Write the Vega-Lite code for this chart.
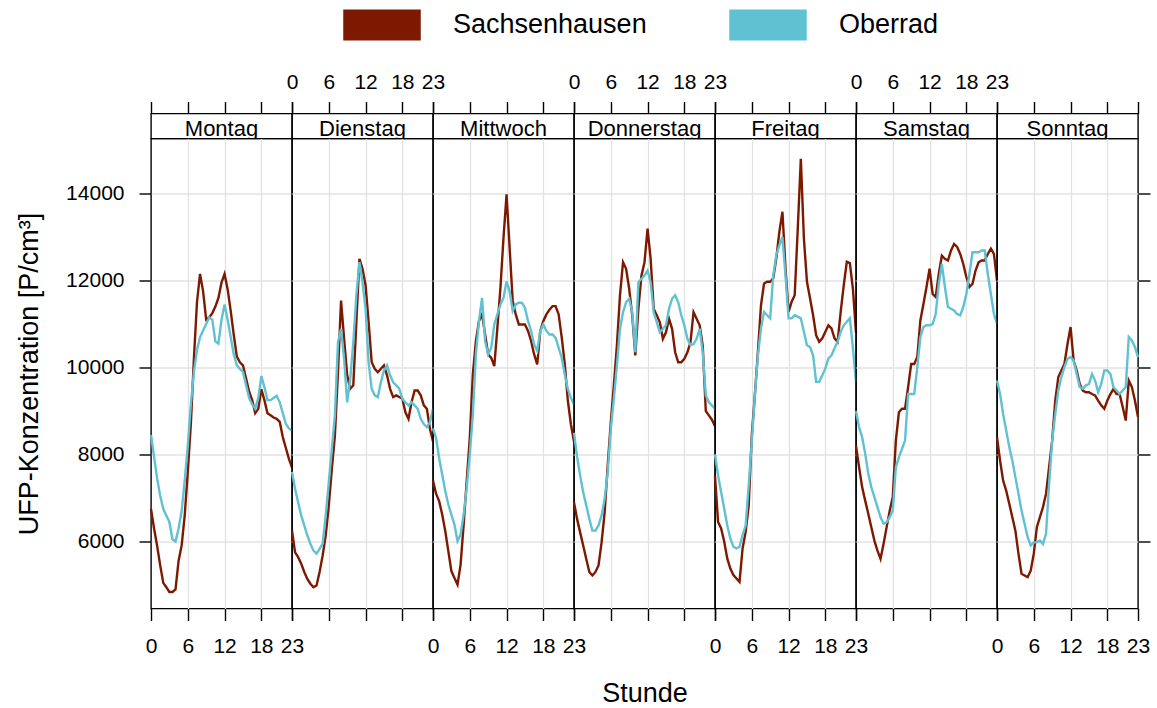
{
  "$schema": "https://vega.github.io/schema/vega-lite/v6.json",
  "background": "white",
  "padding": {"left": 14, "top": -6.5, "right": 5, "bottom": 5},
  "datasets": {
    "ufp": [
      {"tag":"Montag","stunde":0,"Sachsenhausen":6750,"Oberrad":8450},
      {"tag":"Montag","stunde":0.5,"Sachsenhausen":6300,"Oberrad":7950},
      {"tag":"Montag","stunde":1,"Sachsenhausen":5900,"Oberrad":7450},
      {"tag":"Montag","stunde":1.5,"Sachsenhausen":5450,"Oberrad":7050},
      {"tag":"Montag","stunde":2,"Sachsenhausen":5050,"Oberrad":6750},
      {"tag":"Montag","stunde":2.5,"Sachsenhausen":4950,"Oberrad":6600},
      {"tag":"Montag","stunde":3,"Sachsenhausen":4840,"Oberrad":6450},
      {"tag":"Montag","stunde":3.5,"Sachsenhausen":4840,"Oberrad":6050},
      {"tag":"Montag","stunde":4,"Sachsenhausen":4900,"Oberrad":6000},
      {"tag":"Montag","stunde":4.5,"Sachsenhausen":5560,"Oberrad":6300},
      {"tag":"Montag","stunde":5,"Sachsenhausen":5910,"Oberrad":6700},
      {"tag":"Montag","stunde":5.5,"Sachsenhausen":6600,"Oberrad":7400},
      {"tag":"Montag","stunde":6,"Sachsenhausen":7600,"Oberrad":8200},
      {"tag":"Montag","stunde":6.5,"Sachsenhausen":8700,"Oberrad":9150},
      {"tag":"Montag","stunde":7,"Sachsenhausen":10200,"Oberrad":9900},
      {"tag":"Montag","stunde":7.5,"Sachsenhausen":11500,"Oberrad":10400},
      {"tag":"Montag","stunde":8,"Sachsenhausen":12150,"Oberrad":10700},
      {"tag":"Montag","stunde":8.5,"Sachsenhausen":11750,"Oberrad":10850},
      {"tag":"Montag","stunde":9,"Sachsenhausen":11100,"Oberrad":11000},
      {"tag":"Montag","stunde":9.5,"Sachsenhausen":11150,"Oberrad":11150},
      {"tag":"Montag","stunde":10,"Sachsenhausen":11250,"Oberrad":11100},
      {"tag":"Montag","stunde":10.5,"Sachsenhausen":11400,"Oberrad":10600},
      {"tag":"Montag","stunde":11,"Sachsenhausen":11600,"Oberrad":10550},
      {"tag":"Montag","stunde":11.5,"Sachsenhausen":11950,"Oberrad":11100},
      {"tag":"Montag","stunde":12,"Sachsenhausen":12150,"Oberrad":11450},
      {"tag":"Montag","stunde":12.5,"Sachsenhausen":11800,"Oberrad":11100},
      {"tag":"Montag","stunde":13,"Sachsenhausen":11300,"Oberrad":10700},
      {"tag":"Montag","stunde":13.5,"Sachsenhausen":10750,"Oberrad":10300},
      {"tag":"Montag","stunde":14,"Sachsenhausen":10250,"Oberrad":10050},
      {"tag":"Montag","stunde":14.5,"Sachsenhausen":10120,"Oberrad":9970},
      {"tag":"Montag","stunde":15,"Sachsenhausen":10050,"Oberrad":9900},
      {"tag":"Montag","stunde":15.5,"Sachsenhausen":9750,"Oberrad":9600},
      {"tag":"Montag","stunde":16,"Sachsenhausen":9450,"Oberrad":9300},
      {"tag":"Montag","stunde":16.5,"Sachsenhausen":9250,"Oberrad":9150},
      {"tag":"Montag","stunde":17,"Sachsenhausen":8950,"Oberrad":9050},
      {"tag":"Montag","stunde":17.5,"Sachsenhausen":9050,"Oberrad":9300},
      {"tag":"Montag","stunde":18,"Sachsenhausen":9500,"Oberrad":9800},
      {"tag":"Montag","stunde":18.5,"Sachsenhausen":9250,"Oberrad":9550},
      {"tag":"Montag","stunde":19,"Sachsenhausen":8950,"Oberrad":9250},
      {"tag":"Montag","stunde":19.5,"Sachsenhausen":8900,"Oberrad":9250},
      {"tag":"Montag","stunde":20,"Sachsenhausen":8850,"Oberrad":9300},
      {"tag":"Montag","stunde":20.5,"Sachsenhausen":8820,"Oberrad":9350},
      {"tag":"Montag","stunde":21,"Sachsenhausen":8750,"Oberrad":9200},
      {"tag":"Montag","stunde":21.5,"Sachsenhausen":8400,"Oberrad":8950},
      {"tag":"Montag","stunde":22,"Sachsenhausen":8150,"Oberrad":8700},
      {"tag":"Montag","stunde":22.5,"Sachsenhausen":7900,"Oberrad":8600},
      {"tag":"Montag","stunde":23,"Sachsenhausen":7700,"Oberrad":8550},

      {"tag":"Dienstag","stunde":0,"Sachsenhausen":6250,"Oberrad":7600},
      {"tag":"Dienstag","stunde":0.5,"Sachsenhausen":5750,"Oberrad":7210},
      {"tag":"Dienstag","stunde":1,"Sachsenhausen":5640,"Oberrad":6900},
      {"tag":"Dienstag","stunde":1.5,"Sachsenhausen":5490,"Oberrad":6600},
      {"tag":"Dienstag","stunde":2,"Sachsenhausen":5300,"Oberrad":6370},
      {"tag":"Dienstag","stunde":2.5,"Sachsenhausen":5140,"Oberrad":6140},
      {"tag":"Dienstag","stunde":3,"Sachsenhausen":5030,"Oberrad":5950},
      {"tag":"Dienstag","stunde":3.5,"Sachsenhausen":4950,"Oberrad":5790},
      {"tag":"Dienstag","stunde":4,"Sachsenhausen":4990,"Oberrad":5720},
      {"tag":"Dienstag","stunde":4.5,"Sachsenhausen":5300,"Oberrad":5830},
      {"tag":"Dienstag","stunde":5,"Sachsenhausen":5680,"Oberrad":5950},
      {"tag":"Dienstag","stunde":5.5,"Sachsenhausen":6140,"Oberrad":6600},
      {"tag":"Dienstag","stunde":6,"Sachsenhausen":6830,"Oberrad":7360},
      {"tag":"Dienstag","stunde":6.5,"Sachsenhausen":7670,"Oberrad":8130},
      {"tag":"Dienstag","stunde":7,"Sachsenhausen":8440,"Oberrad":8900},
      {"tag":"Dienstag","stunde":7.5,"Sachsenhausen":9890,"Oberrad":10580},
      {"tag":"Dienstag","stunde":8,"Sachsenhausen":11540,"Oberrad":10890},
      {"tag":"Dienstag","stunde":8.5,"Sachsenhausen":10660,"Oberrad":10200},
      {"tag":"Dienstag","stunde":9,"Sachsenhausen":9820,"Oberrad":9200},
      {"tag":"Dienstag","stunde":9.5,"Sachsenhausen":9510,"Oberrad":9740},
      {"tag":"Dienstag","stunde":10,"Sachsenhausen":9590,"Oberrad":10580},
      {"tag":"Dienstag","stunde":10.5,"Sachsenhausen":11040,"Oberrad":11660},
      {"tag":"Dienstag","stunde":11,"Sachsenhausen":12500,"Oberrad":12420},
      {"tag":"Dienstag","stunde":11.5,"Sachsenhausen":12270,"Oberrad":11960},
      {"tag":"Dienstag","stunde":12,"Sachsenhausen":11890,"Oberrad":11350},
      {"tag":"Dienstag","stunde":12.5,"Sachsenhausen":11040,"Oberrad":10120},
      {"tag":"Dienstag","stunde":13,"Sachsenhausen":10120,"Oberrad":9510},
      {"tag":"Dienstag","stunde":13.5,"Sachsenhausen":9970,"Oberrad":9360},
      {"tag":"Dienstag","stunde":14,"Sachsenhausen":9890,"Oberrad":9320},
      {"tag":"Dienstag","stunde":14.5,"Sachsenhausen":9970,"Oberrad":9660},
      {"tag":"Dienstag","stunde":15,"Sachsenhausen":10050,"Oberrad":9930},
      {"tag":"Dienstag","stunde":15.5,"Sachsenhausen":9820,"Oberrad":10050},
      {"tag":"Dienstag","stunde":16,"Sachsenhausen":9510,"Oberrad":9820},
      {"tag":"Dienstag","stunde":16.5,"Sachsenhausen":9320,"Oberrad":9660},
      {"tag":"Dienstag","stunde":17,"Sachsenhausen":9360,"Oberrad":9590},
      {"tag":"Dienstag","stunde":17.5,"Sachsenhausen":9320,"Oberrad":9510},
      {"tag":"Dienstag","stunde":18,"Sachsenhausen":9280,"Oberrad":9280},
      {"tag":"Dienstag","stunde":18.5,"Sachsenhausen":8970,"Oberrad":9200},
      {"tag":"Dienstag","stunde":19,"Sachsenhausen":8820,"Oberrad":9130},
      {"tag":"Dienstag","stunde":19.5,"Sachsenhausen":9200,"Oberrad":9200},
      {"tag":"Dienstag","stunde":20,"Sachsenhausen":9470,"Oberrad":9130},
      {"tag":"Dienstag","stunde":20.5,"Sachsenhausen":9470,"Oberrad":9050},
      {"tag":"Dienstag","stunde":21,"Sachsenhausen":9360,"Oberrad":8820},
      {"tag":"Dienstag","stunde":21.5,"Sachsenhausen":9130,"Oberrad":8700},
      {"tag":"Dienstag","stunde":22,"Sachsenhausen":9050,"Oberrad":8630},
      {"tag":"Dienstag","stunde":22.5,"Sachsenhausen":8590,"Oberrad":8740},
      {"tag":"Dienstag","stunde":23,"Sachsenhausen":8300,"Oberrad":9050},

      {"tag":"Mittwoch","stunde":0,"Sachsenhausen":7400,"Oberrad":8600},
      {"tag":"Mittwoch","stunde":0.5,"Sachsenhausen":7100,"Oberrad":8380},
      {"tag":"Mittwoch","stunde":1,"Sachsenhausen":6930,"Oberrad":7920},
      {"tag":"Mittwoch","stunde":1.5,"Sachsenhausen":6620,"Oberrad":7540},
      {"tag":"Mittwoch","stunde":2,"Sachsenhausen":6240,"Oberrad":7160},
      {"tag":"Mittwoch","stunde":2.5,"Sachsenhausen":5780,"Oberrad":6850},
      {"tag":"Mittwoch","stunde":3,"Sachsenhausen":5320,"Oberrad":6620},
      {"tag":"Mittwoch","stunde":3.5,"Sachsenhausen":5160,"Oberrad":6390},
      {"tag":"Mittwoch","stunde":4,"Sachsenhausen":5010,"Oberrad":6010},
      {"tag":"Mittwoch","stunde":4.5,"Sachsenhausen":5470,"Oberrad":6160},
      {"tag":"Mittwoch","stunde":5,"Sachsenhausen":6390,"Oberrad":6620},
      {"tag":"Mittwoch","stunde":5.5,"Sachsenhausen":7390,"Oberrad":7230},
      {"tag":"Mittwoch","stunde":6,"Sachsenhausen":8380,"Oberrad":8000},
      {"tag":"Mittwoch","stunde":6.5,"Sachsenhausen":9840,"Oberrad":8920},
      {"tag":"Mittwoch","stunde":7,"Sachsenhausen":10610,"Oberrad":10300},
      {"tag":"Mittwoch","stunde":7.5,"Sachsenhausen":11070,"Oberrad":11070},
      {"tag":"Mittwoch","stunde":8,"Sachsenhausen":11220,"Oberrad":11600},
      {"tag":"Mittwoch","stunde":8.5,"Sachsenhausen":10760,"Oberrad":10610},
      {"tag":"Mittwoch","stunde":9,"Sachsenhausen":10300,"Oberrad":10300},
      {"tag":"Mittwoch","stunde":9.5,"Sachsenhausen":10220,"Oberrad":10450},
      {"tag":"Mittwoch","stunde":10,"Sachsenhausen":10030,"Oberrad":10990},
      {"tag":"Mittwoch","stunde":10.5,"Sachsenhausen":10910,"Oberrad":11220},
      {"tag":"Mittwoch","stunde":11,"Sachsenhausen":11830,"Oberrad":11450},
      {"tag":"Mittwoch","stunde":11.5,"Sachsenhausen":12980,"Oberrad":11600},
      {"tag":"Mittwoch","stunde":12,"Sachsenhausen":13980,"Oberrad":11980},
      {"tag":"Mittwoch","stunde":12.5,"Sachsenhausen":12750,"Oberrad":11750},
      {"tag":"Mittwoch","stunde":13,"Sachsenhausen":11530,"Oberrad":11300},
      {"tag":"Mittwoch","stunde":13.5,"Sachsenhausen":11220,"Oberrad":11450},
      {"tag":"Mittwoch","stunde":14,"Sachsenhausen":10990,"Oberrad":11490},
      {"tag":"Mittwoch","stunde":14.5,"Sachsenhausen":10990,"Oberrad":11490},
      {"tag":"Mittwoch","stunde":15,"Sachsenhausen":10990,"Oberrad":11370},
      {"tag":"Mittwoch","stunde":15.5,"Sachsenhausen":10840,"Oberrad":11070},
      {"tag":"Mittwoch","stunde":16,"Sachsenhausen":10610,"Oberrad":10840},
      {"tag":"Mittwoch","stunde":16.5,"Sachsenhausen":10300,"Oberrad":10530},
      {"tag":"Mittwoch","stunde":17,"Sachsenhausen":10070,"Oberrad":10380},
      {"tag":"Mittwoch","stunde":17.5,"Sachsenhausen":10840,"Oberrad":10840},
      {"tag":"Mittwoch","stunde":18,"Sachsenhausen":11070,"Oberrad":10990},
      {"tag":"Mittwoch","stunde":18.5,"Sachsenhausen":11220,"Oberrad":10840},
      {"tag":"Mittwoch","stunde":19,"Sachsenhausen":11330,"Oberrad":10760},
      {"tag":"Mittwoch","stunde":19.5,"Sachsenhausen":11410,"Oberrad":10760},
      {"tag":"Mittwoch","stunde":20,"Sachsenhausen":11410,"Oberrad":10680},
      {"tag":"Mittwoch","stunde":20.5,"Sachsenhausen":11220,"Oberrad":10450},
      {"tag":"Mittwoch","stunde":21,"Sachsenhausen":10690,"Oberrad":10220},
      {"tag":"Mittwoch","stunde":21.5,"Sachsenhausen":10070,"Oberrad":9840},
      {"tag":"Mittwoch","stunde":22,"Sachsenhausen":9230,"Oberrad":9500},
      {"tag":"Mittwoch","stunde":22.5,"Sachsenhausen":8690,"Oberrad":9300},
      {"tag":"Mittwoch","stunde":23,"Sachsenhausen":8300,"Oberrad":9150},

      {"tag":"Donnerstag","stunde":0,"Sachsenhausen":6900,"Oberrad":8500},
      {"tag":"Donnerstag","stunde":0.5,"Sachsenhausen":6520,"Oberrad":7950},
      {"tag":"Donnerstag","stunde":1,"Sachsenhausen":6210,"Oberrad":7520},
      {"tag":"Donnerstag","stunde":1.5,"Sachsenhausen":5910,"Oberrad":7130},
      {"tag":"Donnerstag","stunde":2,"Sachsenhausen":5600,"Oberrad":6830},
      {"tag":"Donnerstag","stunde":2.5,"Sachsenhausen":5300,"Oberrad":6520},
      {"tag":"Donnerstag","stunde":3,"Sachsenhausen":5220,"Oberrad":6250},
      {"tag":"Donnerstag","stunde":3.5,"Sachsenhausen":5300,"Oberrad":6250},
      {"tag":"Donnerstag","stunde":4,"Sachsenhausen":5450,"Oberrad":6370},
      {"tag":"Donnerstag","stunde":4.5,"Sachsenhausen":5980,"Oberrad":6600},
      {"tag":"Donnerstag","stunde":5,"Sachsenhausen":6670,"Oberrad":6980},
      {"tag":"Donnerstag","stunde":5.5,"Sachsenhausen":7750,"Oberrad":7590},
      {"tag":"Donnerstag","stunde":6,"Sachsenhausen":8740,"Oberrad":8590},
      {"tag":"Donnerstag","stunde":6.5,"Sachsenhausen":9590,"Oberrad":9280},
      {"tag":"Donnerstag","stunde":7,"Sachsenhausen":10510,"Oberrad":10050},
      {"tag":"Donnerstag","stunde":7.5,"Sachsenhausen":11660,"Oberrad":10890},
      {"tag":"Donnerstag","stunde":8,"Sachsenhausen":12420,"Oberrad":11270},
      {"tag":"Donnerstag","stunde":8.5,"Sachsenhausen":12270,"Oberrad":11500},
      {"tag":"Donnerstag","stunde":9,"Sachsenhausen":11810,"Oberrad":11580},
      {"tag":"Donnerstag","stunde":9.5,"Sachsenhausen":11200,"Oberrad":11270},
      {"tag":"Donnerstag","stunde":10,"Sachsenhausen":10280,"Oberrad":10350},
      {"tag":"Donnerstag","stunde":10.5,"Sachsenhausen":11350,"Oberrad":11960},
      {"tag":"Donnerstag","stunde":11,"Sachsenhausen":12110,"Oberrad":12040},
      {"tag":"Donnerstag","stunde":11.5,"Sachsenhausen":12420,"Oberrad":12110},
      {"tag":"Donnerstag","stunde":12,"Sachsenhausen":13190,"Oberrad":12230},
      {"tag":"Donnerstag","stunde":12.5,"Sachsenhausen":12500,"Oberrad":11960},
      {"tag":"Donnerstag","stunde":13,"Sachsenhausen":11350,"Oberrad":11270},
      {"tag":"Donnerstag","stunde":13.5,"Sachsenhausen":11200,"Oberrad":11040},
      {"tag":"Donnerstag","stunde":14,"Sachsenhausen":11040,"Oberrad":10810},
      {"tag":"Donnerstag","stunde":14.5,"Sachsenhausen":10660,"Oberrad":10890},
      {"tag":"Donnerstag","stunde":15,"Sachsenhausen":10810,"Oberrad":10970},
      {"tag":"Donnerstag","stunde":15.5,"Sachsenhausen":11120,"Oberrad":11350},
      {"tag":"Donnerstag","stunde":16,"Sachsenhausen":10890,"Oberrad":11580},
      {"tag":"Donnerstag","stunde":16.5,"Sachsenhausen":10350,"Oberrad":11660},
      {"tag":"Donnerstag","stunde":17,"Sachsenhausen":10120,"Oberrad":11500},
      {"tag":"Donnerstag","stunde":17.5,"Sachsenhausen":10120,"Oberrad":11200},
      {"tag":"Donnerstag","stunde":18,"Sachsenhausen":10200,"Oberrad":10970},
      {"tag":"Donnerstag","stunde":18.5,"Sachsenhausen":10350,"Oberrad":10660},
      {"tag":"Donnerstag","stunde":19,"Sachsenhausen":10580,"Oberrad":10510},
      {"tag":"Donnerstag","stunde":19.5,"Sachsenhausen":11270,"Oberrad":10540},
      {"tag":"Donnerstag","stunde":20,"Sachsenhausen":11120,"Oberrad":10660},
      {"tag":"Donnerstag","stunde":20.5,"Sachsenhausen":10970,"Oberrad":10890},
      {"tag":"Donnerstag","stunde":21,"Sachsenhausen":10500,"Oberrad":10350},
      {"tag":"Donnerstag","stunde":21.5,"Sachsenhausen":9000,"Oberrad":9360},
      {"tag":"Donnerstag","stunde":22,"Sachsenhausen":8900,"Oberrad":9200},
      {"tag":"Donnerstag","stunde":22.5,"Sachsenhausen":8800,"Oberrad":9130},
      {"tag":"Donnerstag","stunde":23,"Sachsenhausen":8650,"Oberrad":9050},

      {"tag":"Freitag","stunde":0,"Sachsenhausen":7500,"Oberrad":8000},
      {"tag":"Freitag","stunde":0.5,"Sachsenhausen":6450,"Oberrad":7520},
      {"tag":"Freitag","stunde":1,"Sachsenhausen":6300,"Oberrad":7140},
      {"tag":"Freitag","stunde":1.5,"Sachsenhausen":6000,"Oberrad":6760},
      {"tag":"Freitag","stunde":2,"Sachsenhausen":5610,"Oberrad":6370},
      {"tag":"Freitag","stunde":2.5,"Sachsenhausen":5380,"Oberrad":6070},
      {"tag":"Freitag","stunde":3,"Sachsenhausen":5230,"Oberrad":5880},
      {"tag":"Freitag","stunde":3.5,"Sachsenhausen":5150,"Oberrad":5840},
      {"tag":"Freitag","stunde":4,"Sachsenhausen":5070,"Oberrad":5880},
      {"tag":"Freitag","stunde":4.5,"Sachsenhausen":5840,"Oberrad":6150},
      {"tag":"Freitag","stunde":5,"Sachsenhausen":6220,"Oberrad":6370},
      {"tag":"Freitag","stunde":5.5,"Sachsenhausen":6830,"Oberrad":7290},
      {"tag":"Freitag","stunde":6,"Sachsenhausen":8440,"Oberrad":8290},
      {"tag":"Freitag","stunde":6.5,"Sachsenhausen":9360,"Oberrad":9360},
      {"tag":"Freitag","stunde":7,"Sachsenhausen":10360,"Oberrad":10280},
      {"tag":"Freitag","stunde":7.5,"Sachsenhausen":11430,"Oberrad":10900},
      {"tag":"Freitag","stunde":8,"Sachsenhausen":11930,"Oberrad":11280},
      {"tag":"Freitag","stunde":8.5,"Sachsenhausen":11970,"Oberrad":11200},
      {"tag":"Freitag","stunde":9,"Sachsenhausen":11970,"Oberrad":11130},
      {"tag":"Freitag","stunde":9.5,"Sachsenhausen":12050,"Oberrad":12120},
      {"tag":"Freitag","stunde":10,"Sachsenhausen":12510,"Oberrad":12580},
      {"tag":"Freitag","stunde":10.5,"Sachsenhausen":13120,"Oberrad":12810},
      {"tag":"Freitag","stunde":11,"Sachsenhausen":13580,"Oberrad":13000},
      {"tag":"Freitag","stunde":11.5,"Sachsenhausen":12280,"Oberrad":12120},
      {"tag":"Freitag","stunde":12,"Sachsenhausen":11280,"Oberrad":11130},
      {"tag":"Freitag","stunde":12.5,"Sachsenhausen":11510,"Oberrad":11130},
      {"tag":"Freitag","stunde":13,"Sachsenhausen":11660,"Oberrad":11200},
      {"tag":"Freitag","stunde":13.5,"Sachsenhausen":13190,"Oberrad":11170},
      {"tag":"Freitag","stunde":14,"Sachsenhausen":14800,"Oberrad":11130},
      {"tag":"Freitag","stunde":14.5,"Sachsenhausen":12970,"Oberrad":10820},
      {"tag":"Freitag","stunde":15,"Sachsenhausen":11970,"Oberrad":10510},
      {"tag":"Freitag","stunde":15.5,"Sachsenhausen":11590,"Oberrad":10470},
      {"tag":"Freitag","stunde":16,"Sachsenhausen":11200,"Oberrad":10280},
      {"tag":"Freitag","stunde":16.5,"Sachsenhausen":10740,"Oberrad":9670},
      {"tag":"Freitag","stunde":17,"Sachsenhausen":10590,"Oberrad":9670},
      {"tag":"Freitag","stunde":17.5,"Sachsenhausen":10670,"Oberrad":9820},
      {"tag":"Freitag","stunde":18,"Sachsenhausen":10820,"Oberrad":9980},
      {"tag":"Freitag","stunde":18.5,"Sachsenhausen":10970,"Oberrad":10210},
      {"tag":"Freitag","stunde":19,"Sachsenhausen":10900,"Oberrad":10280},
      {"tag":"Freitag","stunde":19.5,"Sachsenhausen":10670,"Oberrad":10440},
      {"tag":"Freitag","stunde":20,"Sachsenhausen":10590,"Oberrad":10590},
      {"tag":"Freitag","stunde":20.5,"Sachsenhausen":11280,"Oberrad":10820},
      {"tag":"Freitag","stunde":21,"Sachsenhausen":11890,"Oberrad":10970},
      {"tag":"Freitag","stunde":21.5,"Sachsenhausen":12430,"Oberrad":11050},
      {"tag":"Freitag","stunde":22,"Sachsenhausen":12400,"Oberrad":11130},
      {"tag":"Freitag","stunde":22.5,"Sachsenhausen":11800,"Oberrad":10440},
      {"tag":"Freitag","stunde":23,"Sachsenhausen":10800,"Oberrad":9670},

      {"tag":"Samstag","stunde":0,"Sachsenhausen":8200,"Oberrad":9000},
      {"tag":"Samstag","stunde":0.5,"Sachsenhausen":7710,"Oberrad":8630},
      {"tag":"Samstag","stunde":1,"Sachsenhausen":7250,"Oberrad":8400},
      {"tag":"Samstag","stunde":1.5,"Sachsenhausen":6940,"Oberrad":8020},
      {"tag":"Samstag","stunde":2,"Sachsenhausen":6640,"Oberrad":7560},
      {"tag":"Samstag","stunde":2.5,"Sachsenhausen":6330,"Oberrad":7250},
      {"tag":"Samstag","stunde":3,"Sachsenhausen":6020,"Oberrad":7020},
      {"tag":"Samstag","stunde":3.5,"Sachsenhausen":5790,"Oberrad":6790},
      {"tag":"Samstag","stunde":4,"Sachsenhausen":5600,"Oberrad":6560},
      {"tag":"Samstag","stunde":4.5,"Sachsenhausen":5950,"Oberrad":6410},
      {"tag":"Samstag","stunde":5,"Sachsenhausen":6330,"Oberrad":6440},
      {"tag":"Samstag","stunde":5.5,"Sachsenhausen":6710,"Oberrad":6560},
      {"tag":"Samstag","stunde":6,"Sachsenhausen":7020,"Oberrad":6710},
      {"tag":"Samstag","stunde":6.5,"Sachsenhausen":8320,"Oberrad":7710},
      {"tag":"Samstag","stunde":7,"Sachsenhausen":8970,"Oberrad":7940},
      {"tag":"Samstag","stunde":7.5,"Sachsenhausen":9050,"Oberrad":8130},
      {"tag":"Samstag","stunde":8,"Sachsenhausen":9050,"Oberrad":8320},
      {"tag":"Samstag","stunde":8.5,"Sachsenhausen":9550,"Oberrad":9390},
      {"tag":"Samstag","stunde":9,"Sachsenhausen":10080,"Oberrad":9390},
      {"tag":"Samstag","stunde":9.5,"Sachsenhausen":10080,"Oberrad":9390},
      {"tag":"Samstag","stunde":10,"Sachsenhausen":10240,"Oberrad":10010},
      {"tag":"Samstag","stunde":10.5,"Sachsenhausen":11080,"Oberrad":10700},
      {"tag":"Samstag","stunde":11,"Sachsenhausen":11460,"Oberrad":10930},
      {"tag":"Samstag","stunde":11.5,"Sachsenhausen":11850,"Oberrad":10970},
      {"tag":"Samstag","stunde":12,"Sachsenhausen":12270,"Oberrad":10970},
      {"tag":"Samstag","stunde":12.5,"Sachsenhausen":11690,"Oberrad":11000},
      {"tag":"Samstag","stunde":13,"Sachsenhausen":11620,"Oberrad":11230},
      {"tag":"Samstag","stunde":13.5,"Sachsenhausen":12150,"Oberrad":11920},
      {"tag":"Samstag","stunde":14,"Sachsenhausen":12570,"Oberrad":12380},
      {"tag":"Samstag","stunde":14.5,"Sachsenhausen":12500,"Oberrad":11850},
      {"tag":"Samstag","stunde":15,"Sachsenhausen":12460,"Oberrad":11390},
      {"tag":"Samstag","stunde":15.5,"Sachsenhausen":12690,"Oberrad":11350},
      {"tag":"Samstag","stunde":16,"Sachsenhausen":12840,"Oberrad":11310},
      {"tag":"Samstag","stunde":16.5,"Sachsenhausen":12770,"Oberrad":11230},
      {"tag":"Samstag","stunde":17,"Sachsenhausen":12610,"Oberrad":11200},
      {"tag":"Samstag","stunde":17.5,"Sachsenhausen":12380,"Oberrad":11390},
      {"tag":"Samstag","stunde":18,"Sachsenhausen":12080,"Oberrad":11690},
      {"tag":"Samstag","stunde":18.5,"Sachsenhausen":11850,"Oberrad":12150},
      {"tag":"Samstag","stunde":19,"Sachsenhausen":11920,"Oberrad":12650},
      {"tag":"Samstag","stunde":19.5,"Sachsenhausen":12230,"Oberrad":12650},
      {"tag":"Samstag","stunde":20,"Sachsenhausen":12420,"Oberrad":12650},
      {"tag":"Samstag","stunde":20.5,"Sachsenhausen":12460,"Oberrad":12690},
      {"tag":"Samstag","stunde":21,"Sachsenhausen":12460,"Oberrad":12690},
      {"tag":"Samstag","stunde":21.5,"Sachsenhausen":12610,"Oberrad":12150},
      {"tag":"Samstag","stunde":22,"Sachsenhausen":12730,"Oberrad":11690},
      {"tag":"Samstag","stunde":22.5,"Sachsenhausen":12610,"Oberrad":11230},
      {"tag":"Samstag","stunde":23,"Sachsenhausen":12000,"Oberrad":11000},

      {"tag":"Sonntag","stunde":0,"Sachsenhausen":8400,"Oberrad":9700},
      {"tag":"Sonntag","stunde":0.5,"Sachsenhausen":7860,"Oberrad":9390},
      {"tag":"Sonntag","stunde":1,"Sachsenhausen":7400,"Oberrad":8930},
      {"tag":"Sonntag","stunde":1.5,"Sachsenhausen":7170,"Oberrad":8550},
      {"tag":"Sonntag","stunde":2,"Sachsenhausen":6870,"Oberrad":8170},
      {"tag":"Sonntag","stunde":2.5,"Sachsenhausen":6560,"Oberrad":7860},
      {"tag":"Sonntag","stunde":3,"Sachsenhausen":6250,"Oberrad":7480},
      {"tag":"Sonntag","stunde":3.5,"Sachsenhausen":5720,"Oberrad":7100},
      {"tag":"Sonntag","stunde":4,"Sachsenhausen":5260,"Oberrad":6710},
      {"tag":"Sonntag","stunde":4.5,"Sachsenhausen":5220,"Oberrad":6410},
      {"tag":"Sonntag","stunde":5,"Sachsenhausen":5180,"Oberrad":6100},
      {"tag":"Sonntag","stunde":5.5,"Sachsenhausen":5330,"Oberrad":5910},
      {"tag":"Sonntag","stunde":6,"Sachsenhausen":5720,"Oberrad":5980},
      {"tag":"Sonntag","stunde":6.5,"Sachsenhausen":6330,"Oberrad":5980},
      {"tag":"Sonntag","stunde":7,"Sachsenhausen":6560,"Oberrad":6020},
      {"tag":"Sonntag","stunde":7.5,"Sachsenhausen":6790,"Oberrad":5940},
      {"tag":"Sonntag","stunde":8,"Sachsenhausen":7100,"Oberrad":6180},
      {"tag":"Sonntag","stunde":8.5,"Sachsenhausen":7710,"Oberrad":7330},
      {"tag":"Sonntag","stunde":9,"Sachsenhausen":8320,"Oberrad":8320},
      {"tag":"Sonntag","stunde":9.5,"Sachsenhausen":9240,"Oberrad":8930},
      {"tag":"Sonntag","stunde":10,"Sachsenhausen":9780,"Oberrad":9470},
      {"tag":"Sonntag","stunde":10.5,"Sachsenhausen":9930,"Oberrad":9780},
      {"tag":"Sonntag","stunde":11,"Sachsenhausen":10080,"Oberrad":10010},
      {"tag":"Sonntag","stunde":11.5,"Sachsenhausen":10540,"Oberrad":10200},
      {"tag":"Sonntag","stunde":12,"Sachsenhausen":10930,"Oberrad":10240},
      {"tag":"Sonntag","stunde":12.5,"Sachsenhausen":10160,"Oberrad":10160},
      {"tag":"Sonntag","stunde":13,"Sachsenhausen":9930,"Oberrad":9850},
      {"tag":"Sonntag","stunde":13.5,"Sachsenhausen":9620,"Oberrad":9550},
      {"tag":"Sonntag","stunde":14,"Sachsenhausen":9470,"Oberrad":9510},
      {"tag":"Sonntag","stunde":14.5,"Sachsenhausen":9430,"Oberrad":9590},
      {"tag":"Sonntag","stunde":15,"Sachsenhausen":9430,"Oberrad":9620},
      {"tag":"Sonntag","stunde":15.5,"Sachsenhausen":9390,"Oberrad":9850},
      {"tag":"Sonntag","stunde":16,"Sachsenhausen":9360,"Oberrad":9700},
      {"tag":"Sonntag","stunde":16.5,"Sachsenhausen":9240,"Oberrad":9430},
      {"tag":"Sonntag","stunde":17,"Sachsenhausen":9130,"Oberrad":9620},
      {"tag":"Sonntag","stunde":17.5,"Sachsenhausen":9050,"Oberrad":9930},
      {"tag":"Sonntag","stunde":18,"Sachsenhausen":9240,"Oberrad":9930},
      {"tag":"Sonntag","stunde":18.5,"Sachsenhausen":9390,"Oberrad":9850},
      {"tag":"Sonntag","stunde":19,"Sachsenhausen":9510,"Oberrad":9550},
      {"tag":"Sonntag","stunde":19.5,"Sachsenhausen":9390,"Oberrad":9470},
      {"tag":"Sonntag","stunde":20,"Sachsenhausen":9390,"Oberrad":9390},
      {"tag":"Sonntag","stunde":20.5,"Sachsenhausen":9090,"Oberrad":9470},
      {"tag":"Sonntag","stunde":21,"Sachsenhausen":8780,"Oberrad":9550},
      {"tag":"Sonntag","stunde":21.5,"Sachsenhausen":9700,"Oberrad":10700},
      {"tag":"Sonntag","stunde":22,"Sachsenhausen":9550,"Oberrad":10620},
      {"tag":"Sonntag","stunde":22.5,"Sachsenhausen":9240,"Oberrad":10470},
      {"tag":"Sonntag","stunde":23,"Sachsenhausen":8860,"Oberrad":10240}
    ]
  },
  "columns": 7,
  "spacing": 0,
  "bounds": "flush",
  "resolve": {"scale": {"color": "shared"}},
  "concat": [
    {
      "width": 141, "height": 25,
      "data": {"values": [{"tag": "Montag"}]},
      "mark": {"type": "text", "fontSize": 22, "baseline": "alphabetic", "dy": 9.5, "clip": true, "color": "#000"},
      "encoding": {
        "text": {"field": "tag"},
        "x": {"datum": 11.5, "type": "quantitative", "scale": {"domain": [0, 23], "nice": false, "zero": false},
              "axis": {"orient": "top", "values": [0, 6, 12, 18, 23], "labels": false, "grid": false, "title": null}}
      }
    },
    {
      "width": 141, "height": 25,
      "data": {"values": [{"tag": "Dienstag"}]},
      "mark": {"type": "text", "fontSize": 22, "baseline": "alphabetic", "dy": 9.5, "clip": true, "color": "#000"},
      "encoding": {
        "text": {"field": "tag"},
        "x": {"datum": 11.5, "type": "quantitative", "scale": {"domain": [0, 23], "nice": false, "zero": false},
              "axis": {"orient": "top", "values": [0, 6, 12, 18, 23], "labels": true, "labelPadding": 9, "grid": false, "title": null}}
      }
    },
    {
      "width": 141, "height": 25,
      "data": {"values": [{"tag": "Mittwoch"}]},
      "mark": {"type": "text", "fontSize": 22, "baseline": "alphabetic", "dy": 9.5, "clip": true, "color": "#000"},
      "encoding": {
        "text": {"field": "tag"},
        "x": {"datum": 11.5, "type": "quantitative", "scale": {"domain": [0, 23], "nice": false, "zero": false},
              "axis": {"orient": "top", "values": [0, 6, 12, 18, 23], "labels": false, "grid": false, "title": null}}
      }
    },
    {
      "width": 141, "height": 25,
      "data": {"values": [{"tag": "Donnerstag"}]},
      "mark": {"type": "text", "fontSize": 22, "baseline": "alphabetic", "dy": 9.5, "clip": true, "color": "#000"},
      "encoding": {
        "text": {"field": "tag"},
        "x": {"datum": 11.5, "type": "quantitative", "scale": {"domain": [0, 23], "nice": false, "zero": false},
              "axis": {"orient": "top", "values": [0, 6, 12, 18, 23], "labels": true, "labelPadding": 9, "grid": false, "title": null}}
      }
    },
    {
      "width": 141, "height": 25,
      "data": {"values": [{"tag": "Freitag"}]},
      "mark": {"type": "text", "fontSize": 22, "baseline": "alphabetic", "dy": 9.5, "clip": true, "color": "#000"},
      "encoding": {
        "text": {"field": "tag"},
        "x": {"datum": 11.5, "type": "quantitative", "scale": {"domain": [0, 23], "nice": false, "zero": false},
              "axis": {"orient": "top", "values": [0, 6, 12, 18, 23], "labels": false, "grid": false, "title": null}}
      }
    },
    {
      "width": 141, "height": 25,
      "data": {"values": [{"tag": "Samstag"}]},
      "mark": {"type": "text", "fontSize": 22, "baseline": "alphabetic", "dy": 9.5, "clip": true, "color": "#000"},
      "encoding": {
        "text": {"field": "tag"},
        "x": {"datum": 11.5, "type": "quantitative", "scale": {"domain": [0, 23], "nice": false, "zero": false},
              "axis": {"orient": "top", "values": [0, 6, 12, 18, 23], "labels": true, "labelPadding": 9, "grid": false, "title": null}}
      }
    },
    {
      "width": 141, "height": 25,
      "data": {"values": [{"tag": "Sonntag"}]},
      "mark": {"type": "text", "fontSize": 22, "baseline": "alphabetic", "dy": 9.5, "clip": true, "color": "#000"},
      "encoding": {
        "text": {"field": "tag"},
        "x": {"datum": 11.5, "type": "quantitative", "scale": {"domain": [0, 23], "nice": false, "zero": false},
              "axis": {"orient": "top", "values": [0, 6, 12, 18, 23], "labels": false, "grid": false, "title": null}}
      }
    },
    {
      "width": 141, "height": 470,
      "data": {"name": "ufp"},
      "transform": [{"filter": "datum.tag === 'Montag'"}, {"fold": ["Sachsenhausen", "Oberrad"], "as": ["standort", "wert"]}],
      "encoding": {
        "x": {"field": "stunde", "type": "quantitative", "scale": {"domain": [0, 23], "nice": false, "zero": false},
              "axis": {"orient": "bottom", "values": [0, 6, 12, 18, 23], "labels": true, "labelPadding": 15, "title": null, "grid": true,
                       "gridOpacity": {"condition": {"test": "datum.value === 0 || datum.value === 23", "value": 0}, "value": 1}}},
        "y": {"field": "wert", "type": "quantitative", "scale": {"domain": [4460, 15264], "nice": false, "zero": false},
              "axis": {"orient": "left", "values": [6000, 8000, 10000, 12000, 14000], "format": "d", "labelPadding": 15,
                       "title": "UFP-Konzentration [P/cm³]", "titlePadding": 22, "grid": true}},
        "color": {"field": "standort", "type": "nominal",
                  "scale": {"domain": ["Sachsenhausen", "Oberrad"], "range": ["#7D1900", "#5FC1D1"]},
                  "legend": {"orient": "none", "legendX": 200, "legendY": -119.5, "direction": "horizontal", "title": null,
                             "symbolType": "M-2.5,0L2.5,0", "symbolSize": 961, "symbolStrokeWidth": 31, "symbolOpacity": 1,
                             "labelFontSize": 27, "labelColor": "#000", "labelLimit": 400, "labelOffset": 40, "columnPadding": 20}}
      },
      "layer": [
        {"transform": [{"filter": "datum.standort === 'Sachsenhausen'"}], "mark": {"type": "line", "strokeWidth": 2.4}},
        {"transform": [{"filter": "datum.standort === 'Oberrad'"}], "mark": {"type": "line", "strokeWidth": 2.4}}
      ]
    },
    {
      "width": 141, "height": 470,
      "data": {"name": "ufp"},
      "transform": [{"filter": "datum.tag === 'Dienstag'"}, {"fold": ["Sachsenhausen", "Oberrad"], "as": ["standort", "wert"]}],
      "encoding": {
        "x": {"field": "stunde", "type": "quantitative", "scale": {"domain": [0, 23], "nice": false, "zero": false},
              "axis": {"orient": "bottom", "values": [0, 6, 12, 18, 23], "labels": false, "title": null, "grid": true,
                       "gridOpacity": {"condition": {"test": "datum.value === 0 || datum.value === 23", "value": 0}, "value": 1}}},
        "y": {"field": "wert", "type": "quantitative", "scale": {"domain": [4460, 15264], "nice": false, "zero": false},
              "axis": {"values": [6000, 8000, 10000, 12000, 14000], "labels": false, "ticks": false, "title": null, "grid": true}},
        "color": {"field": "standort", "type": "nominal", "scale": {"domain": ["Sachsenhausen", "Oberrad"], "range": ["#7D1900", "#5FC1D1"]}}
      },
      "layer": [
        {"transform": [{"filter": "datum.standort === 'Sachsenhausen'"}], "mark": {"type": "line", "strokeWidth": 2.4}},
        {"transform": [{"filter": "datum.standort === 'Oberrad'"}], "mark": {"type": "line", "strokeWidth": 2.4}}
      ]
    },
    {
      "width": 141, "height": 470,
      "data": {"name": "ufp"},
      "transform": [{"filter": "datum.tag === 'Mittwoch'"}, {"fold": ["Sachsenhausen", "Oberrad"], "as": ["standort", "wert"]}],
      "encoding": {
        "x": {"field": "stunde", "type": "quantitative", "scale": {"domain": [0, 23], "nice": false, "zero": false},
              "axis": {"orient": "bottom", "values": [0, 6, 12, 18, 23], "labels": true, "labelPadding": 15, "title": null, "grid": true,
                       "gridOpacity": {"condition": {"test": "datum.value === 0 || datum.value === 23", "value": 0}, "value": 1}}},
        "y": {"field": "wert", "type": "quantitative", "scale": {"domain": [4460, 15264], "nice": false, "zero": false},
              "axis": {"values": [6000, 8000, 10000, 12000, 14000], "labels": false, "ticks": false, "title": null, "grid": true}},
        "color": {"field": "standort", "type": "nominal", "scale": {"domain": ["Sachsenhausen", "Oberrad"], "range": ["#7D1900", "#5FC1D1"]}}
      },
      "layer": [
        {"transform": [{"filter": "datum.standort === 'Sachsenhausen'"}], "mark": {"type": "line", "strokeWidth": 2.4}},
        {"transform": [{"filter": "datum.standort === 'Oberrad'"}], "mark": {"type": "line", "strokeWidth": 2.4}}
      ]
    },
    {
      "width": 141, "height": 470,
      "data": {"name": "ufp"},
      "transform": [{"filter": "datum.tag === 'Donnerstag'"}, {"fold": ["Sachsenhausen", "Oberrad"], "as": ["standort", "wert"]}],
      "encoding": {
        "x": {"field": "stunde", "type": "quantitative", "scale": {"domain": [0, 23], "nice": false, "zero": false},
              "axis": {"orient": "bottom", "values": [0, 6, 12, 18, 23], "labels": false, "title": "Stunde", "titlePadding": 59, "grid": true,
                       "gridOpacity": {"condition": {"test": "datum.value === 0 || datum.value === 23", "value": 0}, "value": 1}}},
        "y": {"field": "wert", "type": "quantitative", "scale": {"domain": [4460, 15264], "nice": false, "zero": false},
              "axis": {"values": [6000, 8000, 10000, 12000, 14000], "labels": false, "ticks": false, "title": null, "grid": true}},
        "color": {"field": "standort", "type": "nominal", "scale": {"domain": ["Sachsenhausen", "Oberrad"], "range": ["#7D1900", "#5FC1D1"]}}
      },
      "layer": [
        {"transform": [{"filter": "datum.standort === 'Sachsenhausen'"}], "mark": {"type": "line", "strokeWidth": 2.4}},
        {"transform": [{"filter": "datum.standort === 'Oberrad'"}], "mark": {"type": "line", "strokeWidth": 2.4}}
      ]
    },
    {
      "width": 141, "height": 470,
      "data": {"name": "ufp"},
      "transform": [{"filter": "datum.tag === 'Freitag'"}, {"fold": ["Sachsenhausen", "Oberrad"], "as": ["standort", "wert"]}],
      "encoding": {
        "x": {"field": "stunde", "type": "quantitative", "scale": {"domain": [0, 23], "nice": false, "zero": false},
              "axis": {"orient": "bottom", "values": [0, 6, 12, 18, 23], "labels": true, "labelPadding": 15, "title": null, "grid": true,
                       "gridOpacity": {"condition": {"test": "datum.value === 0 || datum.value === 23", "value": 0}, "value": 1}}},
        "y": {"field": "wert", "type": "quantitative", "scale": {"domain": [4460, 15264], "nice": false, "zero": false},
              "axis": {"values": [6000, 8000, 10000, 12000, 14000], "labels": false, "ticks": false, "title": null, "grid": true}},
        "color": {"field": "standort", "type": "nominal", "scale": {"domain": ["Sachsenhausen", "Oberrad"], "range": ["#7D1900", "#5FC1D1"]}}
      },
      "layer": [
        {"transform": [{"filter": "datum.standort === 'Sachsenhausen'"}], "mark": {"type": "line", "strokeWidth": 2.4}},
        {"transform": [{"filter": "datum.standort === 'Oberrad'"}], "mark": {"type": "line", "strokeWidth": 2.4}}
      ]
    },
    {
      "width": 141, "height": 470,
      "data": {"name": "ufp"},
      "transform": [{"filter": "datum.tag === 'Samstag'"}, {"fold": ["Sachsenhausen", "Oberrad"], "as": ["standort", "wert"]}],
      "encoding": {
        "x": {"field": "stunde", "type": "quantitative", "scale": {"domain": [0, 23], "nice": false, "zero": false},
              "axis": {"orient": "bottom", "values": [0, 6, 12, 18, 23], "labels": false, "title": null, "grid": true,
                       "gridOpacity": {"condition": {"test": "datum.value === 0 || datum.value === 23", "value": 0}, "value": 1}}},
        "y": {"field": "wert", "type": "quantitative", "scale": {"domain": [4460, 15264], "nice": false, "zero": false},
              "axis": {"values": [6000, 8000, 10000, 12000, 14000], "labels": false, "ticks": false, "title": null, "grid": true}},
        "color": {"field": "standort", "type": "nominal", "scale": {"domain": ["Sachsenhausen", "Oberrad"], "range": ["#7D1900", "#5FC1D1"]}}
      },
      "layer": [
        {"transform": [{"filter": "datum.standort === 'Sachsenhausen'"}], "mark": {"type": "line", "strokeWidth": 2.4}},
        {"transform": [{"filter": "datum.standort === 'Oberrad'"}], "mark": {"type": "line", "strokeWidth": 2.4}}
      ]
    },
    {
      "width": 141, "height": 470,
      "data": {"name": "ufp"},
      "transform": [{"filter": "datum.tag === 'Sonntag'"}, {"fold": ["Sachsenhausen", "Oberrad"], "as": ["standort", "wert"]}],
      "encoding": {
        "x": {"field": "stunde", "type": "quantitative", "scale": {"domain": [0, 23], "nice": false, "zero": false},
              "axis": {"orient": "bottom", "values": [0, 6, 12, 18, 23], "labels": true, "labelPadding": 15, "title": null, "grid": true,
                       "gridOpacity": {"condition": {"test": "datum.value === 0 || datum.value === 23", "value": 0}, "value": 1}}},
        "y": {"field": "wert", "type": "quantitative", "scale": {"domain": [4460, 15264], "nice": false, "zero": false},
              "axis": {"orient": "right", "values": [6000, 8000, 10000, 12000, 14000], "labels": false, "ticks": true, "title": null, "grid": true}},
        "color": {"field": "standort", "type": "nominal", "scale": {"domain": ["Sachsenhausen", "Oberrad"], "range": ["#7D1900", "#5FC1D1"]}}
      },
      "layer": [
        {"transform": [{"filter": "datum.standort === 'Sachsenhausen'"}], "mark": {"type": "line", "strokeWidth": 2.4}},
        {"transform": [{"filter": "datum.standort === 'Oberrad'"}], "mark": {"type": "line", "strokeWidth": 2.4}}
      ]
    }
  ],
  "config": {
    "font": "Liberation Sans",
    "view": {"stroke": "#000", "strokeWidth": 1.4},
    "axis": {
      "domain": false, "tickColor": "#000", "tickWidth": 1.4, "tickSize": 12,
      "labelFont": "Liberation Sans", "labelFontSize": 21, "labelColor": "#000",
      "labelOverlap": false, "labelFlush": false, "labelBound": false,
      "titleFont": "Liberation Sans", "titleFontSize": 27, "titleFontWeight": "normal", "titleColor": "#000",
      "gridColor": "#E2E2E2", "gridWidth": 1.3
    },
    "legend": {"labelFont": "Liberation Sans"},
    "text": {"font": "Liberation Sans"}
  }
}
